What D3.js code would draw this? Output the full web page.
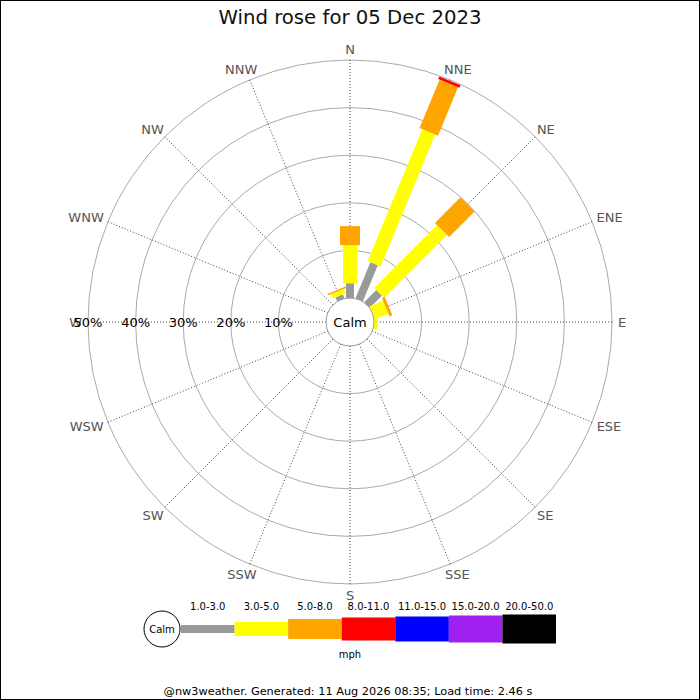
<!DOCTYPE html>
<html>
<head>
<meta charset="utf-8">
<script src="https://cdn.jsdelivr.net/npm/d3@7"></script>
<style>
  body { margin: 0; background: #fff; }
  svg { display: block; font-family: "DejaVu Sans", sans-serif; }
</style>
</head>
<body>
<div id="chart"></div>
<script>
const w = 700, h = 700;
const cx = 350, cy = 322;

// directions clockwise from north
const directions = ["N","NNE","NE","ENE","E","ESE","SE","SSE","S","SSW","SW","WSW","W","WNW","NW","NNW"];
const speedClasses = ["1.0-3.0","3.0-5.0","5.0-8.0","8.0-11.0","11.0-15.0","15.0-20.0","20.0-50.0"];
const classColors = ["#999999","#ffff00","#ffa500","#ff0000","#0000ff","#a020f0","#000000"];
const classWidths = [8, 14, 20, 23, 25, 27, 29];

// percent of time per direction, one array per speed class
const s1to3   = [3.1, 8.2, 3.6, 0, 0, 0, 0, 0, 0, 0, 0, 0, 0, 0, 0, 0.9];
const s3to5   = [8.0, 30.0, 18.7, 3.1, 0.8, 0, 0, 0, 0, 0, 0, 0, 0, 0, 0, 1.0];
const s5to8   = [4.0, 11.0, 7.6, 0.6, 0, 0, 0, 0, 0, 0, 0, 0, 0, 0, 0, 0.3];
const s8to11  = [0, 0.6, 0, 0, 0, 0, 0, 0, 0, 0, 0, 0, 0, 0, 0, 0];
const s11to15 = [0, 0, 0, 0, 0, 0, 0, 0, 0, 0, 0, 0, 0, 0, 0, 0];
const s15to20 = [0, 0, 0, 0, 0, 0, 0, 0, 0, 0, 0, 0, 0, 0, 0, 0];
const s20to50 = [0, 0, 0, 0, 0, 0, 0, 0, 0, 0, 0, 0, 0, 0, 0, 0];
const series = [s1to3, s3to5, s5to8, s8to11, s11to15, s15to20, s20to50];

const ringTicks = [10, 20, 30, 40, 50];

const title = "Wind rose for 05 Dec 2023";
const footer = "@nw3weather. Generated: 11 Aug 2026 08:35; Load time: 2.46 s";

const calmR = 24;
const r = d3.scaleLinear().domain([0, 50]).range([calmR, 262]);

const svg = d3.select("#chart").append("svg")
    .attr("width", w).attr("height", h)
    .attr("viewBox", "0 0 " + w + " " + h);

svg.append("rect").attr("x", 0.5).attr("y", 0.5).attr("width", w - 1).attr("height", h - 1)
    .style("fill", "#fff").style("stroke", "#000");

svg.append("text").attr("x", cx).attr("y", 24).attr("text-anchor", "middle")
    .style("font-size", "19.7px").style("fill", "#111").text(title);

const g = svg.append("g").attr("transform", "translate(" + cx + "," + cy + ")");

// rings
g.selectAll(null).data(ringTicks).enter().append("circle")
    .attr("r", d => r(d))
    .style("fill", "none").style("stroke", "#aaa").style("stroke-width", 1);

// spokes
const ang = i => i * 22.5 * Math.PI / 180;
g.selectAll(null).data(directions).enter().append("line")
    .attr("x1", (d, i) => Math.sin(ang(i)) * calmR)
    .attr("y1", (d, i) => -Math.cos(ang(i)) * calmR)
    .attr("x2", (d, i) => Math.sin(ang(i)) * r(50))
    .attr("y2", (d, i) => -Math.cos(ang(i)) * r(50))
    .style("stroke", "#444").style("stroke-width", 1).style("stroke-dasharray", "1,2");

// stacked bars
const segs = [];
directions.forEach((d, i) => {
  let acc = 0;
  series.forEach((s, k) => {
    if (s[i] > 0) segs.push({dir: i, k: k, from: acc, to: acc + s[i]});
    acc += s[i];
  });
});

g.selectAll(null).data(segs).enter().append("rect")
    .attr("transform", d => "rotate(" + (d.dir * 22.5) + ")")
    .attr("x", d => -classWidths[d.k] / 2)
    .attr("width", d => classWidths[d.k])
    .attr("y", d => -r(d.to))
    .attr("height", d => r(d.to) - r(d.from))
    .style("fill", d => classColors[d.k]);

// calm circle
g.append("circle").attr("r", calmR).style("fill", "#fff").style("stroke", "#999");
g.append("text").attr("dy", "0.35em").attr("text-anchor", "middle")
    .style("font-size", "13px").style("fill", "#000").text("Calm");

// direction labels, pushed out by half their box
const labelR = 268;
g.selectAll(null).data(directions).enter().append("text")
    .attr("dy", "0.35em").attr("text-anchor", "middle")
    .style("font-size", "13px").style("fill", "#555").text(d => d)
    .each(function(d, i) {
      const hw = this.getComputedTextLength() / 2, hh = 5;
      d3.select(this)
        .attr("x", Math.sin(ang(i)) * (labelR + hw))
        .attr("y", -Math.cos(ang(i)) * (labelR + hh));
    });

// ring labels along the west axis
g.selectAll(null).data(ringTicks).enter().append("text")
    .attr("x", d => -r(d))
    .attr("dy", "0.35em").attr("text-anchor", "middle")
    .style("font-size", "13px").style("fill", "#000").text(d => d + "%");

// legend
const lx = d3.scaleBand().domain(speedClasses).range([181, 556]);
const ly = 629;
const legend = svg.append("g");
legend.append("circle").attr("cx", 162).attr("cy", ly).attr("r", 18)
    .style("fill", "#fff").style("stroke", "#000");
legend.append("text").attr("x", 162).attr("y", ly).attr("dy", "0.35em").attr("text-anchor", "middle")
    .style("font-size", "10px").text("Calm");
legend.selectAll(null).data(speedClasses).enter().append("rect")
    .attr("x", d => lx(d))
    .attr("width", lx.bandwidth())
    .attr("y", (d, i) => ly - classWidths[i] / 2)
    .attr("height", (d, i) => classWidths[i])
    .style("fill", (d, i) => classColors[i]);
legend.selectAll(null).data(speedClasses).enter().append("text")
    .attr("x", d => lx(d) + lx.bandwidth() / 2)
    .attr("y", 610).attr("text-anchor", "middle")
    .style("font-size", "10px").text(d => d);
legend.append("text").attr("x", 350).attr("y", 658).attr("text-anchor", "middle")
    .style("font-size", "10px").text("mph");

svg.append("text").attr("x", 348).attr("y", 695).attr("text-anchor", "middle")
    .style("font-size", "11.3px").style("fill", "#000").text(footer);
</script>
</body>
</html>
